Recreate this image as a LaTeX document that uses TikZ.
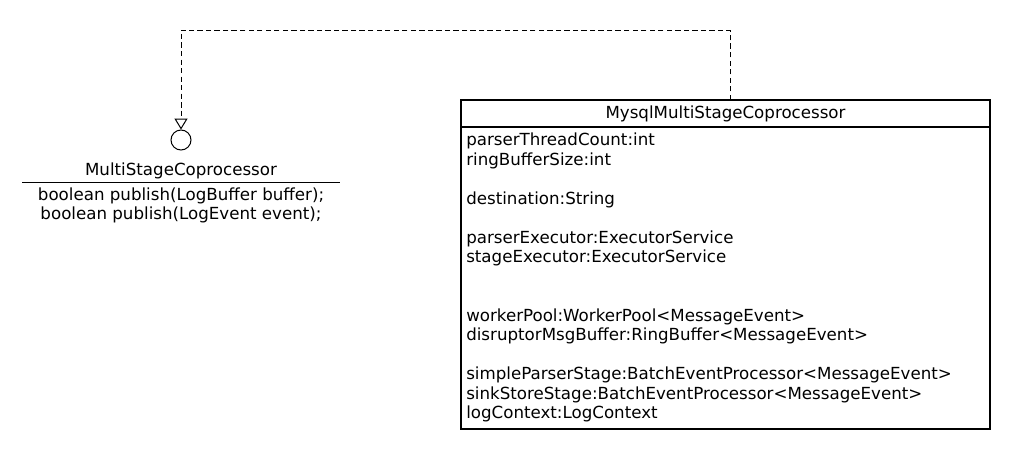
\documentclass[tikz,border=0pt]{standalone}
\usepackage{fontspec}
\setmainfont{DejaVu Sans}
\usetikzlibrary{arrows.meta}

\tikzset{
  umltext/.style={inner sep=0pt, font=\fontsize{12.5pt}{14.6pt}\selectfont},
  umlbox/.style={draw, line width=0.8pt, inner sep=0pt, outer sep=0pt},
  realize/.style={dashed, dash pattern=on 4pt off 2.4pt, line width=0.75pt,
    -{Triangle[open, width=9.8pt, length=8.2pt]}}
}

\begin{document}
\begin{tikzpicture}[x=0.75pt, y=-0.75pt]
  \useasboundingbox (0,0) rectangle (1010,450);
  % interface (lollipop)
  \node[draw, circle, line width=0.75pt, minimum size=15pt, inner sep=0pt] (lollipop) at (181,140) {};
  \node[umltext] (MSC-name) at (181,171) {MultiStageCoprocessor};
  \coordinate (MSC-l) at (22,182);
  \coordinate (MSC-r) at (340,182);
  \draw[line width=0.75pt] (MSC-l) -- (MSC-r);
  \node[umltext, align=center, anchor=north] (MSC-ops) at (181,187.5) {boolean publish(LogBuffer buffer);\\boolean publish(LogEvent event);};
  % implementing class
  \node[umlbox, anchor=north west, minimum width=396.75pt, minimum height=20.25pt] (MMSC-head) at (461,100) {};
  \node[umlbox, anchor=north west, minimum width=396.75pt, minimum height=226.5pt] (MMSC-body) at (461,127) {};
  \node[umltext] (MMSC-name) at ([yshift=-0.5pt]MMSC-head.center) {MysqlMultiStageCoprocessor};
  \node[umltext, align=left, anchor=north west] (MMSC-attrs) at (466,133) {parserThreadCount:int\\ringBufferSize:int\\ \\destination:String\\ \\parserExecutor:ExecutorService\\stageExecutor:ExecutorService\\ \\ \\workerPool:WorkerPool<MessageEvent>\\disruptorMsgBuffer:RingBuffer<MessageEvent>\\ \\simpleParserStage:BatchEventProcessor<MessageEvent>\\sinkStoreStage:BatchEventProcessor<MessageEvent>\\logContext:LogContext};
  % realization
  \coordinate (MMSC-top) at (730,100);
  \coordinate (bend) at (181,30);
  \draw[realize] (MMSC-top) |- (bend) -- (lollipop.north);
\end{tikzpicture}
\end{document}
